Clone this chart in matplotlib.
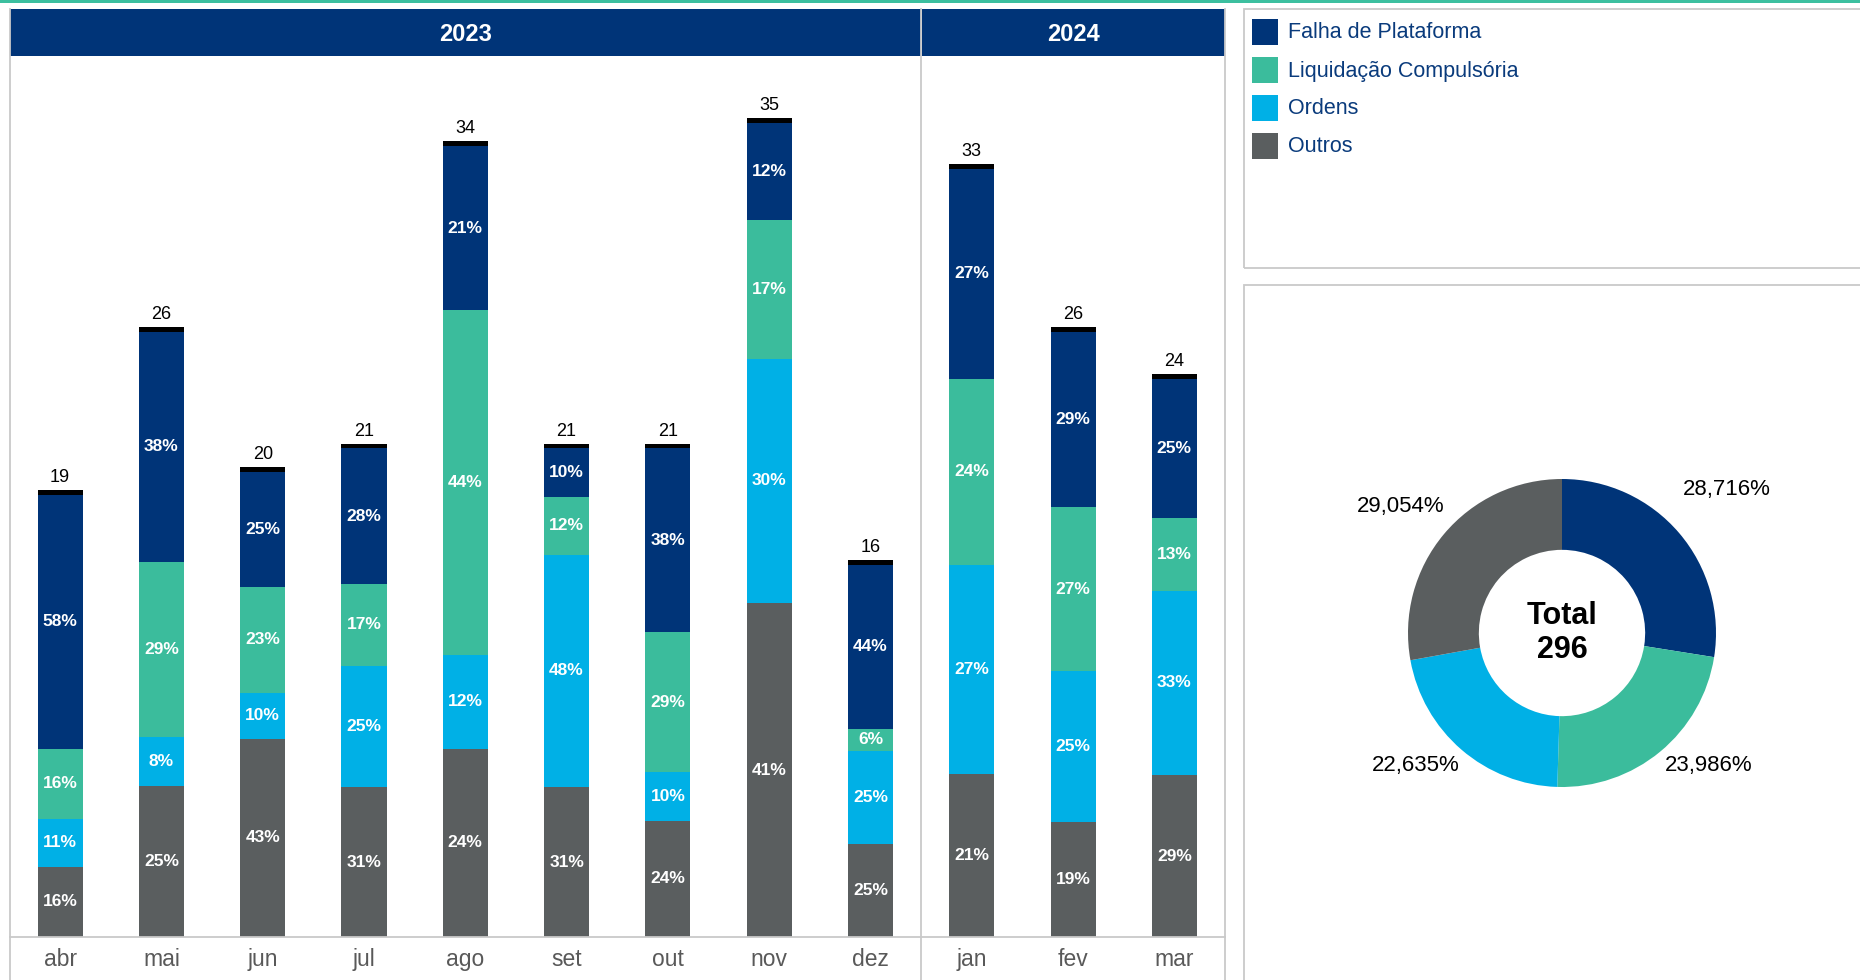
import matplotlib
matplotlib.use("Agg")
import matplotlib.pyplot as plt
from matplotlib.patches import Rectangle
from matplotlib.lines import Line2D
import numpy as np

plt.rcParams['font.family'] = ['Liberation Sans', 'DejaVu Sans']

# ---------------- data ----------------
months = ["abr", "mai", "jun", "jul", "ago", "set", "out", "nov", "dez", "jan", "fev", "mar"]
years = ["2023", "2024"]
months_per_year = [9, 3]
totals = [19, 26, 20, 21, 34, 21, 21, 35, 16, 33, 26, 24]
categories = ["Falha de Plataforma", "Liquidação Compulsória", "Ordens", "Outros"]
pct_falha = [58, 38, 25, 28, 21, 10, 38, 12, 44, 27, 29, 25]
pct_liq = [16, 29, 23, 17, 44, 12, 29, 17, 6, 24, 27, 13]
pct_ordens = [11, 8, 10, 25, 12, 48, 10, 30, 25, 27, 25, 33]
pct_outros = [16, 25, 43, 31, 24, 31, 24, 41, 25, 21, 19, 29]
donut_values = [28.716, 23.986, 22.635, 29.054]
donut_labels = ["28,716%", "23,986%", "22,635%", "29,054%"]
grand_total = 296

colors = {"Falha de Plataforma": "#003478", "Liquidação Compulsória": "#3bbc9c",
          "Ordens": "#00b0e6", "Outros": "#5a5e5f"}
NAVY = "#003478"
GRID = "#c9c9c9"

W, H = 1860, 980
fig = plt.figure(figsize=(W / 100, H / 100), dpi=100)

def fx(px):
    return px / W

def fy(py):
    return 1 - py / H

# top teal line
fig.add_artist(Rectangle((0, fy(3.5)), 1, 3.5 / H, transform=fig.transFigure,
                         facecolor="#3cbf9f", edgecolor="none"))

# ---------------- bar panel ----------------
PL, PR, PT, PB = 9.5, 1225, 56, 937
HT = 9.5
ax = fig.add_axes([fx(PL), fy(PB), fx(PR - PL), (PB - PT) / H])
n = len(months)
x = np.arange(n)
px_per_unit = 23.27
ax.set_xlim(-0.5, n - 0.5)
ax.set_ylim(0, (PB - PT) / px_per_unit)
ax.axis("off")

series = [("Outros", pct_outros), ("Ordens", pct_ordens),
          ("Liquidação Compulsória", pct_liq), ("Falha de Plataforma", pct_falha)]
pct_sum = np.array(pct_falha) + np.array(pct_liq) + np.array(pct_ordens) + np.array(pct_outros)
tot = np.array(totals, dtype=float)
bottom = np.zeros(n)
bw = 0.445
for name, pcts in series:
    p = np.array(pcts, dtype=float)
    h = tot * p / pct_sum
    ax.bar(x, h, bw, bottom=bottom, color=colors[name], edgecolor="none", zorder=2)
    for i in range(n):
        ax.text(x[i], bottom[i] + h[i] / 2, f"{pcts[i]}%", ha="center", va="center",
                color="white", fontsize=12.5, fontweight="bold", zorder=3)
    bottom += h

cap = 0.2
ax.bar(x, [cap] * n, bw, bottom=tot, color="black", edgecolor="none", zorder=2)
for i in range(n):
    ax.annotate(str(totals[i]), xy=(x[i], tot[i] + cap), xytext=(0, 3),
                textcoords="offset points", ha="center", va="bottom",
                fontsize=13, color="black")
    ax.annotate(months[i], xy=(x[i], 0), xycoords=("data", "axes fraction"),
                xytext=(0, -16), textcoords="offset points", ha="center", va="center",
                fontsize=16.5, color="#595959")

# panel frames & headers
slot = (PR - PL) / n
sep_positions = [PL]
acc = 0
for k in months_per_year:
    acc += k
    sep_positions.append(PL + acc * slot)

for k, yr in enumerate(years):
    x0 = sep_positions[k] + (1 if k > 0 else 0)
    x1 = sep_positions[k + 1]
    fig.add_artist(Rectangle((fx(x0), fy(PT)), fx(x1 - x0), (PT - HT) / H,
                             transform=fig.transFigure, facecolor=NAVY, edgecolor="none"))
    fig.text(fx((x0 + x1) / 2), fy((PT + HT) / 2 + 1.5), yr, ha="center", va="center",
             color="white", fontsize=17, fontweight="bold")

for sx in sep_positions:
    fig.add_artist(Line2D([fx(sx), fx(sx)], [fy(HT), 0], transform=fig.transFigure,
                          color=GRID, lw=1.3))
fig.add_artist(Line2D([fx(PL), fx(PR)], [fy(PB), fy(PB)], transform=fig.transFigure,
                      color=GRID, lw=1.3))

# ---------------- legend box ----------------
LX = 1244
fig.add_artist(Rectangle((fx(LX), fy(268)), fx(W - LX + 5), (268 - 9.5) / H,
                         transform=fig.transFigure, facecolor="none", edgecolor=GRID, lw=1.3))
row_y = [32, 70, 108, 146]
for name, ry in zip(categories, row_y):
    fig.add_artist(Rectangle((fx(1252), fy(ry + 13)), fx(26), 26 / H,
                             transform=fig.transFigure, facecolor=colors[name], edgecolor="none"))
    fig.text(fx(1288), fy(ry + 1), name, ha="left", va="center", fontsize=15.5, color="#0a3b7c")

# donut panel box
fig.add_artist(Rectangle((fx(LX), -0.01), fx(W - LX + 5), fy(285) + 0.01,
                         transform=fig.transFigure, facecolor="none", edgecolor=GRID, lw=1.3))

# ---------------- donut ----------------
cx, cy, R = 1562, 633, 154
pax = fig.add_axes([fx(cx - R), fy(cy + R), fx(2 * R), 2 * R / H])
pax.set_zorder(5)
pax.pie(donut_values, colors=[colors[c] for c in categories], startangle=90,
        counterclock=False, radius=1, wedgeprops=dict(width=0.46, linewidth=0))
pax.set_xlim(-1, 1)
pax.set_ylim(-1, 1)
pax.set_aspect("equal")
pax.axis("off")
label_pos = [(1.07, 0.93), (0.95, -0.86), (-0.95, -0.86), (-1.05, 0.82)]
for lbl, (lx, ly) in zip(donut_labels, label_pos):
    pax.text(lx, ly, lbl, ha="center", va="center", fontsize=16, color="black")
pax.text(0, 0.11, "Total", ha="center", va="center", fontsize=22, fontweight="bold")
pax.text(0, -0.11, str(grand_total), ha="center", va="center", fontsize=22, fontweight="bold")

fig.savefig("out.png", dpi=100)
